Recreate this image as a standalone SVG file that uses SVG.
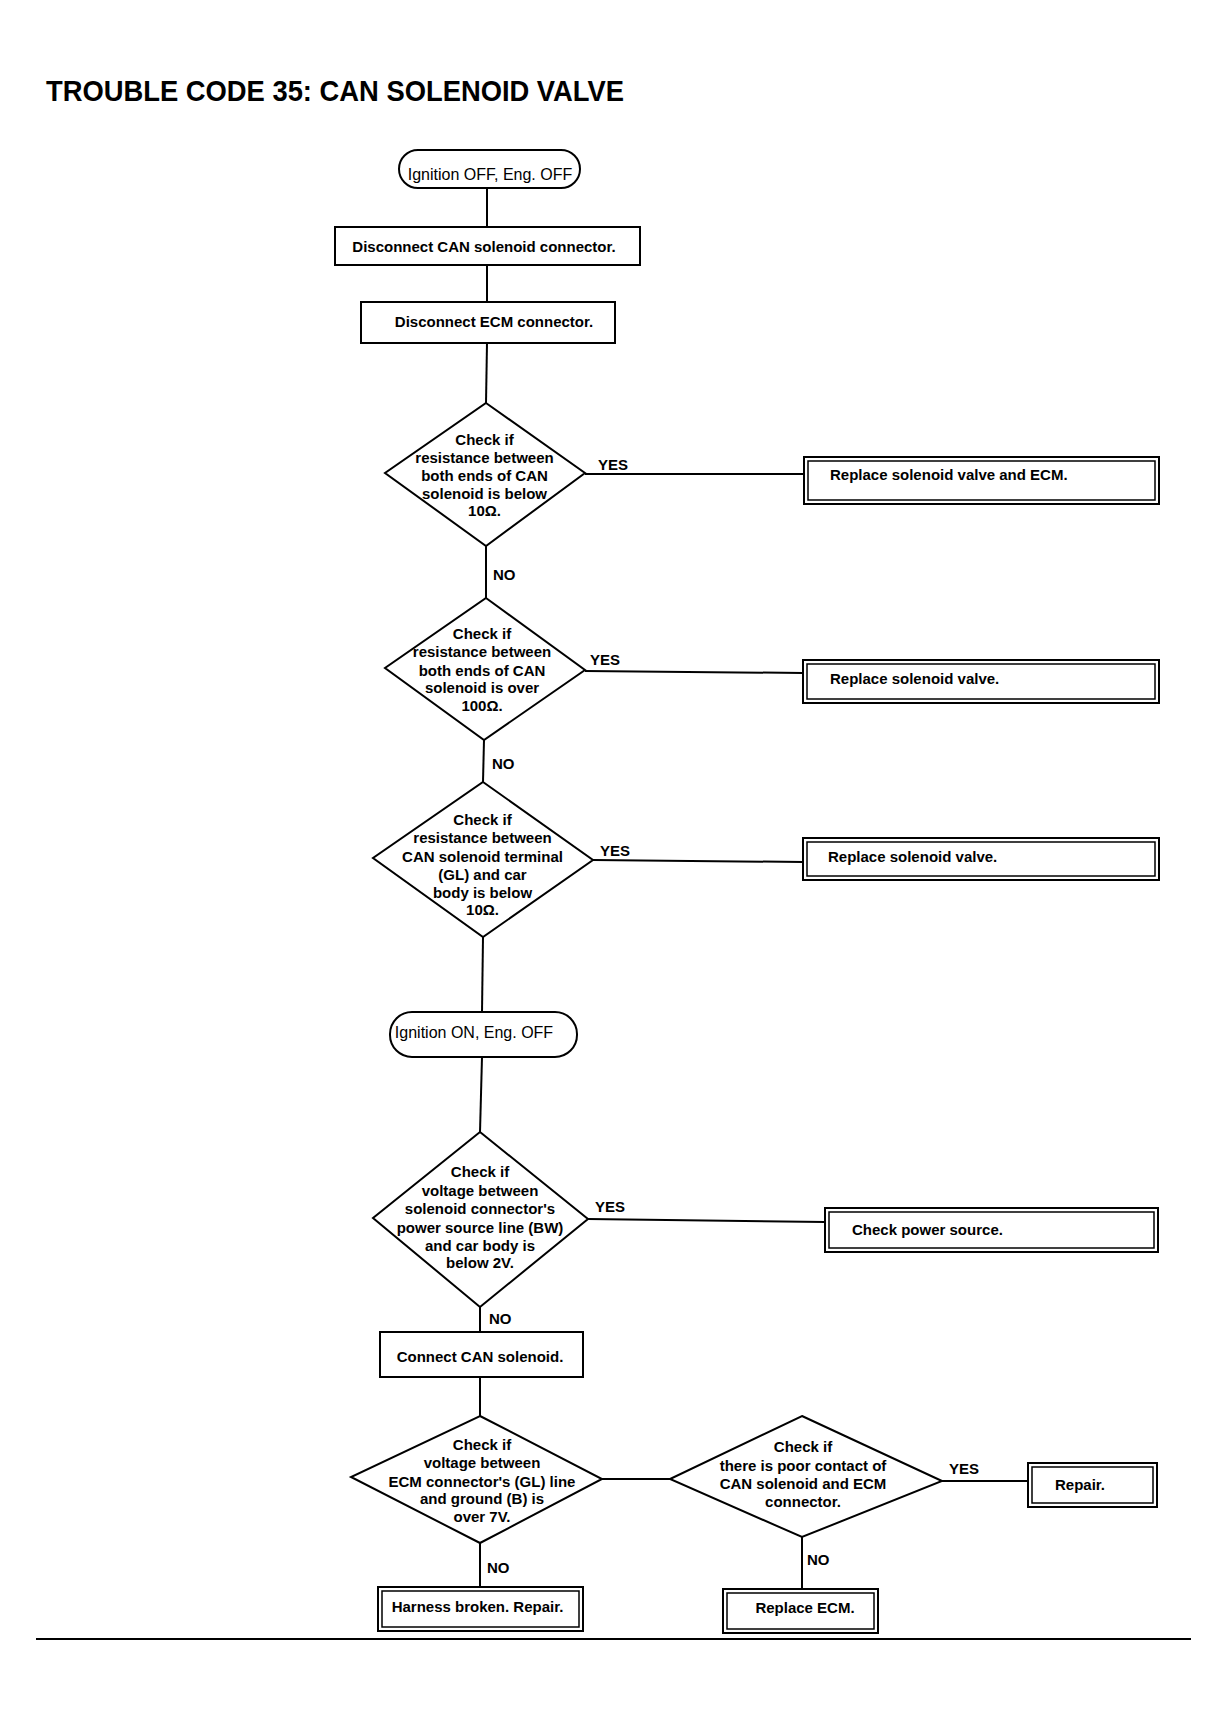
<svg xmlns="http://www.w3.org/2000/svg" width="1221" height="1715" viewBox="0 0 1221 1715">
<style>
.bg{fill:#fff}
.ln{stroke:#000;stroke-width:2;fill:none}
.sh{stroke:#000;stroke-width:2;fill:#fff}
.in{stroke:#000;stroke-width:1.5;fill:none}
.t{font-family:"Liberation Sans",Arial,sans-serif;font-weight:bold;font-size:15px;fill:#000}
.c{text-anchor:middle}
.p{font-family:"Liberation Sans",Arial,sans-serif;font-size:16px;fill:#000;text-anchor:middle}
.title{font-family:"Liberation Sans",Arial,sans-serif;font-weight:bold;font-size:30px;fill:#000}
</style>
<rect class="bg" x="0" y="0" width="1221" height="1715"/>
<text class="title" x="46" y="101" textLength="578" lengthAdjust="spacingAndGlyphs">TROUBLE CODE 35: CAN SOLENOID VALVE</text>

<g id="connectors">
<line class="ln" x1="487" y1="188" x2="487" y2="227"/>
<line class="ln" x1="487" y1="265" x2="487" y2="302"/>
<line class="ln" x1="487" y1="343" x2="486" y2="403"/>
<line class="ln" x1="585" y1="474" x2="804" y2="474"/>
<line class="ln" x1="486" y1="546" x2="486" y2="598"/>
<line class="ln" x1="585" y1="671" x2="803" y2="673"/>
<line class="ln" x1="484" y1="740" x2="483" y2="782"/>
<line class="ln" x1="593" y1="860" x2="803" y2="862"/>
<line class="ln" x1="483" y1="937" x2="482" y2="1012"/>
<line class="ln" x1="482" y1="1057" x2="480" y2="1132"/>
<line class="ln" x1="588" y1="1219" x2="825" y2="1222"/>
<line class="ln" x1="480" y1="1307" x2="480" y2="1332"/>
<line class="ln" x1="480" y1="1377" x2="480" y2="1416"/>
<line class="ln" x1="602" y1="1479" x2="670" y2="1479"/>
<line class="ln" x1="942" y1="1481" x2="1028" y2="1481"/>
<line class="ln" x1="480" y1="1543" x2="480" y2="1587"/>
<line class="ln" x1="802" y1="1537" x2="802" y2="1589"/>
<text class="t" x="598" y="470">YES</text>
<text class="t" x="493" y="580">NO</text>
<text class="t" x="590" y="665">YES</text>
<text class="t" x="492" y="769">NO</text>
<text class="t" x="600" y="856">YES</text>
<text class="t" x="595" y="1212">YES</text>
<text class="t" x="489" y="1324">NO</text>
<text class="t" x="487" y="1573">NO</text>
<text class="t" x="949" y="1474">YES</text>
<text class="t" x="807" y="1565">NO</text>
</g>

<g id="start1">
<rect class="sh" x="399" y="150" width="181" height="38" rx="19"/>
<text class="p" x="490" y="180">Ignition OFF, Eng. OFF</text>
</g>

<g id="disconnect-can">
<rect class="sh" x="335" y="227" width="305" height="38"/>
<text class="t c" x="484" y="252">Disconnect CAN solenoid connector.</text>
</g>

<g id="disconnect-ecm">
<rect class="sh" x="361" y="302" width="254" height="41"/>
<text class="t c" x="494" y="327">Disconnect ECM connector.</text>
</g>

<g id="check1">
<polygon class="sh" points="486,403 585,473 486,546 385,473"/>
<text class="t c" x="484.5" y="445">Check if</text>
<text class="t c" x="484.5" y="463">resistance between</text>
<text class="t c" x="484.5" y="481">both ends of CAN</text>
<text class="t c" x="484.5" y="498.5">solenoid is below</text>
<text class="t c" x="484.5" y="516">10Ω.</text>
</g>

<g id="replace-valve-ecm">
<rect class="sh" x="804" y="457" width="355" height="47"/>
<rect class="in" x="808" y="461" width="347" height="39"/>
<text class="t" x="830" y="480">Replace solenoid valve and ECM.</text>
</g>

<g id="check2">
<polygon class="sh" points="486,598 585,670 484,740 385,668"/>
<text class="t c" x="482" y="639">Check if</text>
<text class="t c" x="482" y="657">resistance between</text>
<text class="t c" x="482" y="675.5">both ends of CAN</text>
<text class="t c" x="482" y="693">solenoid is over</text>
<text class="t c" x="482" y="711">100Ω.</text>
</g>

<g id="replace-valve-1">
<rect class="sh" x="803" y="660" width="356" height="43"/>
<rect class="in" x="807" y="664" width="348" height="35"/>
<text class="t" x="830" y="684">Replace solenoid valve.</text>
</g>

<g id="check3">
<polygon class="sh" points="483,782 593,860 483,937 373,858"/>
<text class="t c" x="482.5" y="825">Check if</text>
<text class="t c" x="482.5" y="843">resistance between</text>
<text class="t c" x="482.5" y="861.5">CAN solenoid terminal</text>
<text class="t c" x="482.5" y="880">(GL) and car</text>
<text class="t c" x="482.5" y="897.5">body is below</text>
<text class="t c" x="482.5" y="914.5">10Ω.</text>
</g>

<g id="replace-valve-2">
<rect class="sh" x="803" y="838" width="356" height="42"/>
<rect class="in" x="807" y="842" width="348" height="34"/>
<text class="t" x="828" y="862">Replace solenoid valve.</text>
</g>

<g id="start2">
<rect class="sh" x="390" y="1012" width="187" height="45" rx="22"/>
<text class="p" x="474" y="1038">Ignition ON, Eng. OFF</text>
</g>

<g id="check4">
<polygon class="sh" points="480,1132 588,1219 480,1307 373,1218"/>
<text class="t c" x="480" y="1177">Check if</text>
<text class="t c" x="480" y="1196">voltage between</text>
<text class="t c" x="480" y="1214">solenoid connector's</text>
<text class="t c" x="480" y="1232.5">power source line (BW)</text>
<text class="t c" x="480" y="1250.5">and car body is</text>
<text class="t c" x="480" y="1268">below 2V.</text>
</g>

<g id="check-power">
<rect class="sh" x="825" y="1208" width="333" height="44"/>
<rect class="in" x="829" y="1212" width="325" height="36"/>
<text class="t" x="852" y="1235">Check power source.</text>
</g>

<g id="connect-can">
<rect class="sh" x="380" y="1332" width="203" height="45"/>
<text class="t c" x="480" y="1361.5">Connect CAN solenoid.</text>
</g>

<g id="check5">
<polygon class="sh" points="480,1416 602,1479 480,1543 351,1477"/>
<text class="t c" x="482" y="1450">Check if</text>
<text class="t c" x="482" y="1468">voltage between</text>
<text class="t c" x="482" y="1487">ECM connector's (GL) line</text>
<text class="t c" x="482" y="1504">and ground (B) is</text>
<text class="t c" x="482" y="1521.5">over 7V.</text>
</g>

<g id="check6">
<polygon class="sh" points="802,1416 942,1481 802,1537 670,1479"/>
<text class="t c" x="803" y="1451.5">Check if</text>
<text class="t c" x="803" y="1471">there is poor contact of</text>
<text class="t c" x="803" y="1489">CAN solenoid and ECM</text>
<text class="t c" x="803" y="1506.5">connector.</text>
</g>

<g id="repair">
<rect class="sh" x="1028" y="1463" width="129" height="44"/>
<rect class="in" x="1032" y="1467" width="121" height="36"/>
<text class="t" x="1055" y="1490">Repair.</text>
</g>

<g id="harness">
<rect class="sh" x="378" y="1587" width="205" height="44"/>
<rect class="in" x="382" y="1591" width="197" height="36"/>
<text class="t c" x="477.5" y="1612">Harness broken. Repair.</text>
</g>

<g id="replace-ecm">
<rect class="sh" x="723" y="1589" width="155" height="44"/>
<rect class="in" x="727" y="1593" width="147" height="36"/>
<text class="t c" x="805" y="1613">Replace ECM.</text>
</g>

<line class="ln" x1="36" y1="1639" x2="1191" y2="1639" stroke-width="1.5"/>
</svg>
